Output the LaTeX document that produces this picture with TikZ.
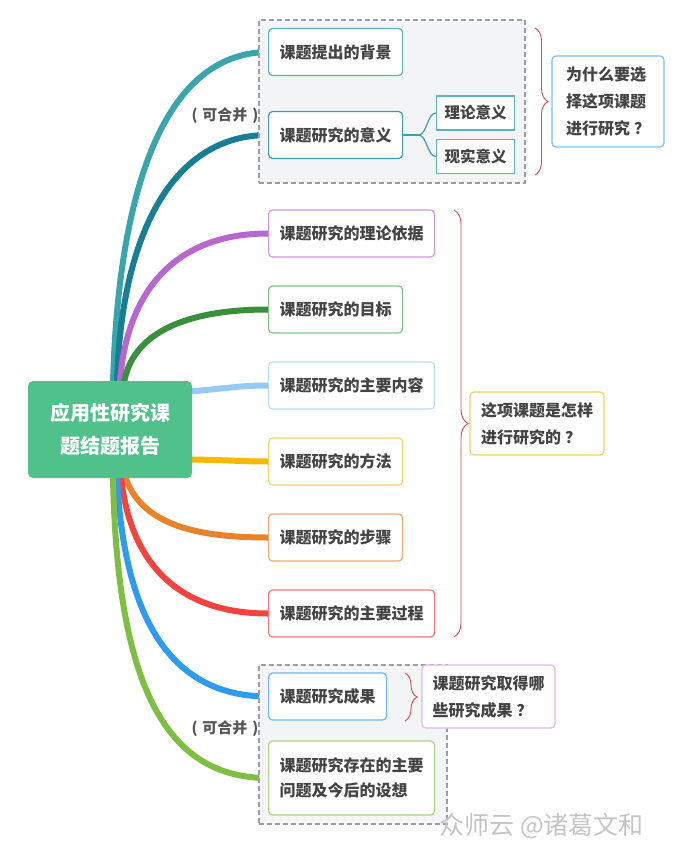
\documentclass[tikz,border=0pt]{standalone}
\usepackage{fontspec}
\newfontfamily\cjk{Noto Sans CJK SC}
\usetikzlibrary{decorations.pathreplacing,calc}
\pgfdeclarelayer{background}
\pgfsetlayers{background,main}
\definecolor{txt}{HTML}{444444}
\definecolor{cgreen}{HTML}{50C18A}
\definecolor{bA}{HTML}{3AA5AB}
\definecolor{bB}{HTML}{177E93}
\definecolor{bC}{HTML}{B768CF}
\definecolor{bD}{HTML}{3A8F3C}
\definecolor{bE}{HTML}{96CAF5}
\definecolor{bF}{HTML}{F6B900}
\definecolor{bG}{HTML}{E8822B}
\definecolor{bH}{HTML}{F2443F}
\definecolor{bI}{HTML}{2F9BF0}
\definecolor{bJ}{HTML}{7EBF43}
\definecolor{kA}{HTML}{5BB5BA}
\definecolor{kB}{HTML}{3F9DAF}
\definecolor{kC}{HTML}{D394E3}
\definecolor{kD}{HTML}{80C282}
\definecolor{kE}{HTML}{B8DCF8}
\definecolor{kF}{HTML}{F8D36A}
\definecolor{kG}{HTML}{F2AA6A}
\definecolor{kH}{HTML}{F27A76}
\definecolor{kI}{HTML}{6CB8F3}
\definecolor{kJ}{HTML}{A8D580}
\definecolor{qA}{HTML}{7CC0F2}
\definecolor{qB}{HTML}{F6CF63}
\definecolor{qC}{HTML}{E2B8EC}
\definecolor{grpfill}{HTML}{F3F4F6}
\definecolor{grpline}{HTML}{9A9FAA}
\definecolor{brc}{HTML}{D9484A}
\definecolor{wm}{HTML}{C4C4C4}
\tikzset{
  topic/.style={draw=#1, line width=1.2, rounded corners=4, fill=white,
    minimum height=47, inner xsep=11, inner ysep=4, anchor=west,
    font=\cjk\bfseries\fontsize{16}{25}\selectfont, text=txt, align=left},
  subtopic/.style={draw=kA, line width=1.2, fill=white, minimum height=34,
    inner xsep=8, anchor=west, font=\cjk\bfseries\fontsize{15.5}{20}\selectfont, text=txt},
  question/.style={draw=#1, line width=1.2, rounded corners=4, fill=white,
    inner xsep=10, align=left, font=\cjk\bfseries\fontsize{16}{27}\selectfont, text=txt},
  grp/.style={draw=grpline, fill=grpfill, line width=1.4, dash pattern=on 5pt off 3pt},
  br/.style={line width=6, draw=#1},
  brc/.style={draw=brc, line width=0.9, decorate, decoration={brace, amplitude=#1}},
  note/.style={font=\cjk\bfseries\fontsize{15}{16}\selectfont, text=txt!90},
}
\begin{document}
\begin{tikzpicture}[x=1pt,y=-1pt]
\useasboundingbox (0,0) rectangle (693,845);
% groups
\node[grp, minimum width=266, minimum height=163] (g1) at (392,101.5) {};
\node[grp, minimum width=188, minimum height=159] (g2) at (353,744.5) {};
% central
\node[fill=cgreen, rounded corners=5, minimum width=164, minimum height=97,
  align=center, text=white, font=\cjk\bfseries\fontsize{20}{33}\selectfont] (c) at (110,429.5) {应用性研究课\\题结题报告};
% topics
\node[topic=kA] (n1) at (268,52) {课题提出的背景};
\node[topic=kB] (n2) at (268,135) {课题研究的意义};
\node[subtopic] (s1) at (436,113) {理论意义};
\node[subtopic] (s2) at (436,156.5) {现实意义};
\node[topic=kC] (n3) at (268,233.5) {课题研究的理论依据};
\node[topic=kD] (n4) at (268,309.5) {课题研究的目标};
\node[topic=kE] (n5) at (268,385.5) {课题研究的主要内容};
\node[topic=kF] (n6) at (268,461.5) {课题研究的方法};
\node[topic=kG] (n7) at (268,537.5) {课题研究的步骤};
\node[topic=kH] (n8) at (268,613.5) {课题研究的主要过程};
\node[topic=kI] (n9) at (268,696.5) {课题研究成果};
\node[topic=kJ, minimum height=74] (n10) at (268,778) {课题研究存在的主要\\问题及今后的设想};
% questions
\node[question=qA, minimum width=112, minimum height=91] (q1) at (608,101.5) {为什么要选\\择这项课题\\进行研究\hspace{4pt}？};
\node[question=qB, minimum width=134, minimum height=63] (q2) at (537,423.5) {这项课题是怎样\\进行研究的\hspace{4pt}？};
\node[question=qC, minimum width=133, minimum height=63] (q3) at (488.5,696.5) {课题研究取得哪\\些研究成果\hspace{4pt}？};
% notes
\node[note] (m1) at (225,116) {(\hspace{5pt}可合并\hspace{5pt})};
\node[note] (m2) at (225,729) {(\hspace{5pt}可合并\hspace{5pt})};
% braces
\coordinate (b1a) at (535,28); \coordinate (b1b) at (535,175);
\draw[brc=13] (b1a) -- (b1b);
\coordinate (b2a) at (454,210); \coordinate (b2b) at (454,637);
\draw[brc=14] (b2a) -- (b2b);
\coordinate (b3a) at (405,673); \coordinate (b3b) at (405,721);
\draw[brc=12] (b3a) -- (b3b);
% sub connectors
\draw[kB, line width=1.2] (n2.east) -- ++(15,0) coordinate (j);
\draw[kB, line width=1.2] (j) .. controls +(9,0) and +(-9,0) .. (s1.west);
\draw[kB, line width=1.2] (j) .. controls +(9,0) and +(-9,0) .. (s2.west);
% watermark
\node[font=\cjk\fontsize{25}{28}\selectfont, text=wm, anchor=west] (wmk) at (436,826) {众师云 @诸葛文和};
% branches
\begin{pgfonlayer}{background}
\draw[br=bA] ($(c.north)+(3,2)$) .. controls (118,200) and (160,53) .. (n1.west);
\draw[br=bB] ($(c.north)+(7,2)$) .. controls (121,235) and (172,135) .. (n2.west);
\draw[br=bC] ($(c.north)+(10,2)$) .. controls (126,295) and (172,233.5) .. (n3.west);
\draw[br=bD] ($(c.north)+(14,2)$) .. controls (132,335) and (182,309.5) .. (n4.west);
\draw[br=bE] ($(c.east)+(-2,-38)$) .. controls (230,388) and (240,385.5) .. (n5.west);
\draw[br=bF] ($(c.east)+(-2,30)$) .. controls (230,460) and (240,461.5) .. (n6.west);
\draw[br=bG] ($(c.south)+(15,-2)$) .. controls (140,522) and (190,537.5) .. (n7.west);
\draw[br=bH] ($(c.south)+(11,-2)$) .. controls (130,565) and (180,613.5) .. (n8.west);
\draw[br=bI] ($(c.south)+(7,-2)$) .. controls (124,625) and (175,696.5) .. (n9.west);
\draw[br=bJ] ($(c.south)+(3,-2)$) .. controls (117,690) and (168,778) .. (n10.west);
\end{pgfonlayer}
\end{tikzpicture}
\end{document}
